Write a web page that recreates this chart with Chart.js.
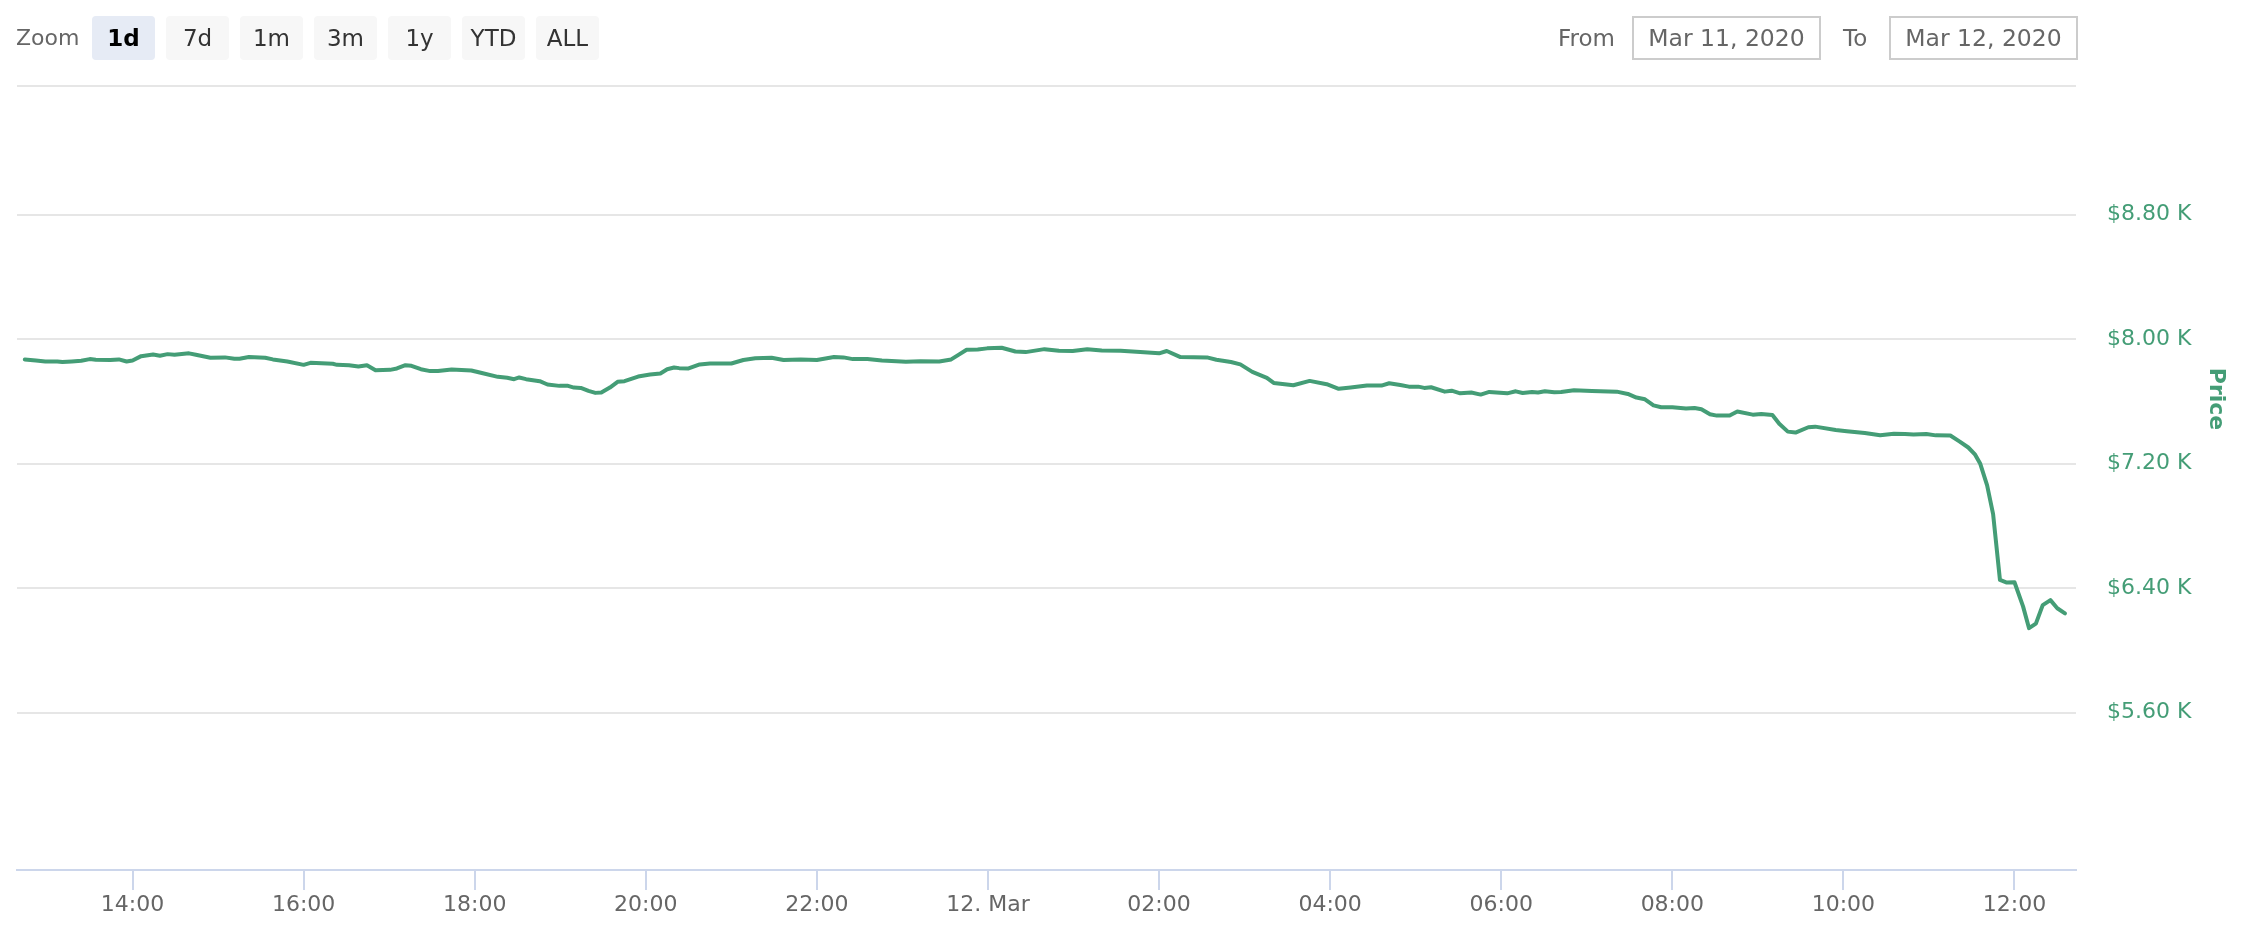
<!DOCTYPE html>
<html>
<head>
<meta charset="utf-8">
<script src="https://cdn.jsdelivr.net/npm/chart.js@4.4.1/dist/chart.umd.min.js"></script>
<style>
  html, body { margin: 0; padding: 0; background: #fff; }
  body { width: 2248px; height: 950px; position: relative; overflow: hidden; font-family: "DejaVu Sans", sans-serif; }
  #c { position: absolute; left: 0; top: 0; }
  .lbl { position: absolute; font-size: 22px; color: #666; line-height: 44px; top: 16px; }
  .btn { position: absolute; top: 16px; width: 63px; height: 44px; line-height: 44px; text-align: center;
         background: #f7f7f7; border-radius: 4px; font-size: 23px; color: #333; }
  .btn.sel { background: #e6ebf5; color: #000; font-weight: bold; }
  .inp { position: absolute; top: 16px; height: 40px; width: 185px; border: 2px solid #ccc; box-sizing: content-box;
         font-size: 23.5px; color: #666; line-height: 40px; text-align: center; }
</style>
</head>
<body>
<canvas id="c" width="2248" height="950"></canvas>
<div class="lbl" style="left:16px">Zoom</div>
<div class="btn sel" style="left:92px">1d</div>
<div class="btn" style="left:166px">7d</div>
<div class="btn" style="left:240px">1m</div>
<div class="btn" style="left:314px">3m</div>
<div class="btn" style="left:388px">1y</div>
<div class="btn" style="left:462px">YTD</div>
<div class="btn" style="left:536px">ALL</div>
<div class="lbl" style="left:1558px; font-size:23px">From</div>
<div class="inp" style="left:1632px">Mar 11, 2020</div>
<div class="lbl" style="left:1843px; font-size:23px">To</div>
<div class="inp" style="left:1889px">Mar 12, 2020</div>
<script>
// Hours since Mar 11, 2020 00:00
const hours = [
  12.74, 12.87, 12.98, 13.12, 13.18, 13.29, 13.40, 13.50, 13.57, 13.74, 13.84, 13.93,
  14.00, 14.10, 14.24, 14.32, 14.41, 14.49, 14.66, 14.74, 14.91, 15.08, 15.19, 15.25,
  15.36, 15.55, 15.64, 15.81, 16.00, 16.08, 16.34, 16.39, 16.53, 16.64, 16.74, 16.84,
  17.01, 17.09, 17.19, 17.26, 17.37, 17.48, 17.57, 17.73, 17.96, 18.07, 18.27, 18.38,
  18.46, 18.52, 18.60, 18.76, 18.85, 18.99, 19.09, 19.16, 19.24, 19.33, 19.41, 19.48,
  19.58, 19.67, 19.75, 19.91, 20.05, 20.17, 20.25, 20.33, 20.39, 20.50, 20.63, 20.75,
  21.00, 21.14, 21.28, 21.47, 21.61, 21.81, 22.00, 22.20, 22.31, 22.42, 22.59, 22.76,
  22.93, 23.04, 23.21, 23.43, 23.57, 23.65, 23.75, 23.88, 23.99, 24.16, 24.32, 24.44,
  24.66, 24.83, 24.99, 25.16, 25.33, 25.55, 25.78, 26.00, 26.09, 26.25, 26.56, 26.67,
  26.84, 26.95, 27.09, 27.26, 27.34, 27.57, 27.76, 27.96, 28.10, 28.24, 28.43, 28.60,
  28.69, 28.82, 28.92, 29.03, 29.10, 29.18, 29.34, 29.42, 29.52, 29.65, 29.76, 29.86,
  30.07, 30.17, 30.25, 30.36, 30.43, 30.51, 30.62, 30.70, 30.85, 31.06, 31.35, 31.48,
  31.58, 31.68, 31.78, 31.87, 32.00, 32.16, 32.26, 32.34, 32.44, 32.52, 32.67, 32.76,
  32.94, 33.04, 33.17, 33.25, 33.35, 33.44, 33.59, 33.67, 33.91, 34.04, 34.25, 34.43,
  34.59, 34.72, 34.82, 34.97, 35.08, 35.25, 35.36, 35.46, 35.54, 35.60, 35.68, 35.75,
  35.83, 35.91, 36.00, 36.10, 36.17, 36.25, 36.33, 36.42, 36.50, 36.59
];
const prices = [
  7869, 7862, 7856, 7856, 7852, 7856, 7860, 7871, 7867, 7865, 7869, 7856,
  7862, 7890, 7901, 7893, 7903, 7899, 7908, 7899, 7880, 7882, 7873, 7873,
  7884, 7880, 7869, 7856, 7834, 7847, 7841, 7834, 7832, 7824, 7832, 7800,
  7802, 7811, 7832, 7828, 7806, 7794, 7794, 7804, 7798, 7783, 7757, 7751,
  7742, 7753, 7742, 7729, 7708, 7699, 7699, 7688, 7686, 7667, 7654, 7656,
  7688, 7725, 7729, 7759, 7772, 7779, 7806, 7817, 7813, 7811, 7837, 7843,
  7843, 7865, 7877, 7880, 7865, 7869, 7865, 7884, 7882, 7871, 7871, 7862,
  7858, 7854, 7858, 7856, 7869, 7897, 7931, 7933, 7940, 7944, 7920, 7916,
  7935, 7925, 7923, 7935, 7927, 7925, 7916, 7908, 7923, 7884, 7882, 7867,
  7852, 7837, 7789, 7751, 7718, 7703, 7731, 7710, 7680, 7688, 7701, 7701,
  7716, 7705, 7694, 7694, 7686, 7690, 7662, 7668, 7651, 7656, 7643, 7660,
  7651, 7664, 7653, 7660, 7656, 7664, 7658, 7660, 7671, 7666, 7662, 7647,
  7624, 7613, 7574, 7562, 7562, 7553, 7557, 7549, 7517, 7508, 7508, 7534,
  7514, 7519, 7512, 7455, 7405, 7399, 7433, 7437, 7416, 7408, 7396, 7382,
  7391, 7390, 7386, 7390, 7381, 7380, 7341, 7303, 7257, 7198, 7060, 6875,
  6452, 6435, 6437, 6282, 6142, 6171, 6290, 6322, 6270, 6237
];
const yTicks = [5600, 6400, 7200, 8000, 8800];
const xTicks = [14, 16, 18, 20, 22, 24, 26, 28, 30, 32, 34, 36];
const xTickLabels = ['14:00', '16:00', '18:00', '20:00', '22:00', '12. Mar', '02:00', '04:00', '06:00', '08:00', '10:00', '12:00'];
const seriesName = 'Price';

const GREEN = '#449d76';
const X_MIN = 12.649, X_MAX = 36.719;
const Y_MIN = 4588, Y_MAX = 9626;

const points = hours.map((h, i) => ({ x: h, y: prices[i] }));

const titlePlugin = {
  id: 'axisTitle',
  afterDraw(chart) {
    const ctx = chart.ctx;
    ctx.save();
    ctx.translate(2216, 399);
    ctx.rotate(Math.PI / 2);
    ctx.fillStyle = GREEN;
    ctx.font = 'bold 22px "DejaVu Sans"';
    ctx.textAlign = 'center';
    ctx.textBaseline = 'middle';
    ctx.fillText(seriesName, 0, 0);
    ctx.restore();
  }
};

new Chart(document.getElementById('c'), {
  type: 'line',
  data: {
    datasets: [{
      label: seriesName,
      data: points,
      borderColor: GREEN,
      backgroundColor: GREEN,
      borderWidth: 4,
      pointRadius: 0,
      tension: 0,
      borderJoinStyle: 'round',
      borderCapStyle: 'round',
      fill: false
    }]
  },
  options: {
    responsive: false,
    animation: false,
    devicePixelRatio: 1,
    layout: { padding: { left: 17, top: 86, right: 0, bottom: 0 } },
    plugins: { legend: { display: false }, tooltip: { enabled: false } },
    scales: {
      x: {
        type: 'linear',
        min: X_MIN,
        max: X_MAX,
        afterBuildTicks(scale) { scale.ticks = xTicks.map(v => ({ value: v })); },
        afterFit(scale) { scale.height = 80; },
        grid: { display: true, drawOnChartArea: false, drawTicks: true, tickLength: 20, color: '#ccd6eb', lineWidth: 2 },
        border: { display: true, color: '#ccd6eb', width: 2 },
        ticks: {
          autoSkip: false, maxRotation: 0, padding: 2,
          color: '#666', font: { family: 'DejaVu Sans', size: 22 },
          callback(v) { const i = xTicks.indexOf(v); return i >= 0 ? xTickLabels[i] : ''; }
        }
      },
      y: {
        type: 'linear',
        position: 'right',
        min: Y_MIN,
        max: Y_MAX,
        afterBuildTicks(scale) { scale.ticks = yTicks.concat([Y_MAX]).map(v => ({ value: v })); },
        afterFit(scale) { scale.width = 172; },
        grid: { color: '#e6e6e6', lineWidth: 2, drawTicks: false },
        border: { display: false },
        ticks: {
          padding: 31, color: GREEN, font: { family: 'DejaVu Sans', size: 22 },
          callback(v) { return yTicks.includes(v) ? '$' + (v / 1000).toFixed(2) + ' K' : ''; }
        }
      }
    }
  },
  plugins: [titlePlugin]
});
</script>
</body>
</html>
